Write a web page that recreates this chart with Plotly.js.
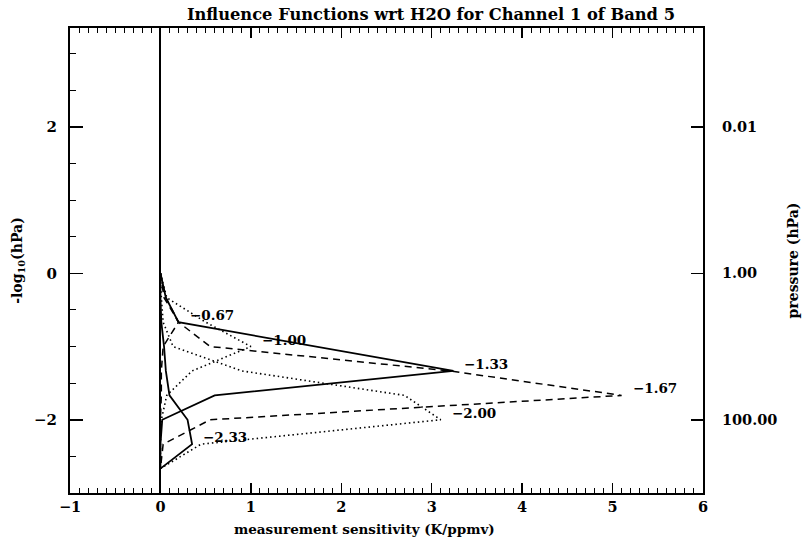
<!DOCTYPE html>
<html>
<head>
<meta charset="utf-8">
<script src="https://cdn.plot.ly/plotly-3.0.1.min.js"></script>
<style>html,body{margin:0;padding:0;background:#fff;}#chart{width:804px;height:544px;}</style>
</head>
<body>
<div id="chart"></div>
<script>
// levels (-log10 hPa) at which the influence functions are given
var levels = [0, -0.333, -0.667, -1.0, -1.333, -1.667, -2.0, -2.333, -2.667];
// curve labels (perturbation level)
var curveLabels = ["−0.67", "−1.00", "−1.33", "−1.67", "−2.00", "−2.33"];
var curveLevels = [-0.667, -1.0, -1.333, -1.667, -2.0, -2.333];
// measurement sensitivity (K/ppmv) of each curve at each level
var c067 = [0, 0.04, 0.20, 0.03, 0.01, 0.01, 0.00, 0.00, 0];
var c100 = [0, 0.07, 0.50, 1.00, 0.35, 0.07, 0.01, 0.00, 0];
var c133 = [0, 0.06, 0.20, 1.72, 3.24, 0.60, 0.02, 0.00, 0];
var c167 = [0, 0.06, 0.20, 0.55, 3.20, 5.10, 0.55, 0.03, 0];
var c200 = [0, 0.01, 0.03, 0.14, 0.90, 2.70, 3.10, 0.45, 0];
var c233 = [0, 0.00, 0.01, 0.04, 0.06, 0.10, 0.30, 0.35, 0];
var curves = [c067, c100, c133, c167, c200, c233];
// right axis tick labels
var pressureTickVals = [2, 0, -2];
var pressureTickText = ["0.01", "1.00", "100.00"];

var styles = [
  {dash: "7px,5px", width: 1.5},
  {dash: "1.5px,3px", width: 1.6},
  {dash: "solid", width: 1.8},
  {dash: "7px,5px", width: 1.5},
  {dash: "1.5px,3px", width: 1.6},
  {dash: "solid", width: 1.8}
];

var font = "DejaVu Serif";
var traces = curves.map(function (c, i) {
  return {
    x: c, y: levels, type: "scatter", mode: "lines",
    line: {color: "#000", width: styles[i].width, dash: styles[i].dash},
    showlegend: false, hoverinfo: "skip", yaxis: "y"
  };
});
// invisible trace to activate the right axis
traces.push({x: [null], y: [null], yaxis: "y2", showlegend: false, hoverinfo: "skip", type: "scatter", mode: "lines"});

var annotations = curves.map(function (c, i) {
  var idx = levels.indexOf(curveLevels[i]);
  return {
    x: c[idx], y: curveLevels[i], xref: "x", yref: "y",
    text: curveLabels[i], showarrow: false,
    xanchor: "left", yanchor: "middle", xshift: 9, yshift: 7,
    font: {family: font, size: 13.5, color: "#000", weight: "bold"}
  };
});
annotations.push({
  text: "measurement sensitivity (K/ppmv)", showarrow: false,
  xref: "paper", yref: "paper", x: 0.466, y: -0.077,
  xanchor: "center", yanchor: "middle",
  font: {family: font, size: 13.5, color: "#000", weight: "bold"}
});

var layout = {
  width: 804, height: 544,
  margin: {l: 70, r: 101, t: 28, b: 51},
  paper_bgcolor: "#fff", plot_bgcolor: "#fff",
  showlegend: false,
  title: {
    text: "Influence Functions wrt H2O for Channel 1 of Band 5",
    x: 0.536, xref: "container", xanchor: "center",
    y: 0.974, yref: "container", yanchor: "middle",
    font: {family: font, size: 16.3, color: "#000", weight: "bold"}
  },
  xaxis: {
    range: [-1, 6], tick0: 0, dtick: 1,
    ticks: "inside", ticklen: 10, tickwidth: 1.5, tickcolor: "#000",
    minor: {dtick: 0.1, ticks: "inside", ticklen: 5, tickwidth: 1, tickcolor: "#000", showgrid: false},
    showline: true, linecolor: "#000", linewidth: 2, mirror: "ticks",
    showgrid: false,
    zeroline: true, zerolinecolor: "#000", zerolinewidth: 2,
    ticklabelstandoff: 0,
    tickfont: {family: font, size: 14.5, color: "#000", weight: "bold"}
  },
  yaxis: {
    range: [-3, 3.35], tick0: 0, dtick: 2,
    ticks: "inside", ticklen: 13, tickwidth: 1.5, tickcolor: "#000",
    minor: {dtick: 0.5, ticks: "inside", ticklen: 6, tickwidth: 1, tickcolor: "#000", showgrid: false},
    showline: true, linecolor: "#000", linewidth: 2,
    showgrid: false, zeroline: false,
    ticklabelstandoff: 8,
    tickfont: {family: font, size: 15, color: "#000", weight: "bold"},
    title: {text: "-log<sub>10</sub>(hPa)", standoff: 8,
      font: {family: font, size: 14, color: "#000", weight: "bold"}}
  },
  yaxis2: {
    range: [-3, 3.35], overlaying: "y", side: "right",
    tickmode: "array", tickvals: pressureTickVals, ticktext: pressureTickText,
    ticks: "inside", ticklen: 12, tickwidth: 1.5, tickcolor: "#000",
    showline: true, linecolor: "#000", linewidth: 2,
    showgrid: false, zeroline: false,
    ticklabelstandoff: 14,
    tickfont: {family: font, size: 14.5, color: "#000", weight: "bold"},
    title: {text: "pressure (hPa)", standoff: 12,
      font: {family: font, size: 14, color: "#000", weight: "bold"}}
  },
  annotations: annotations
};

Plotly.newPlot("chart", traces, layout, {staticPlot: true, displayModeBar: false});
</script>
</body>
</html>
